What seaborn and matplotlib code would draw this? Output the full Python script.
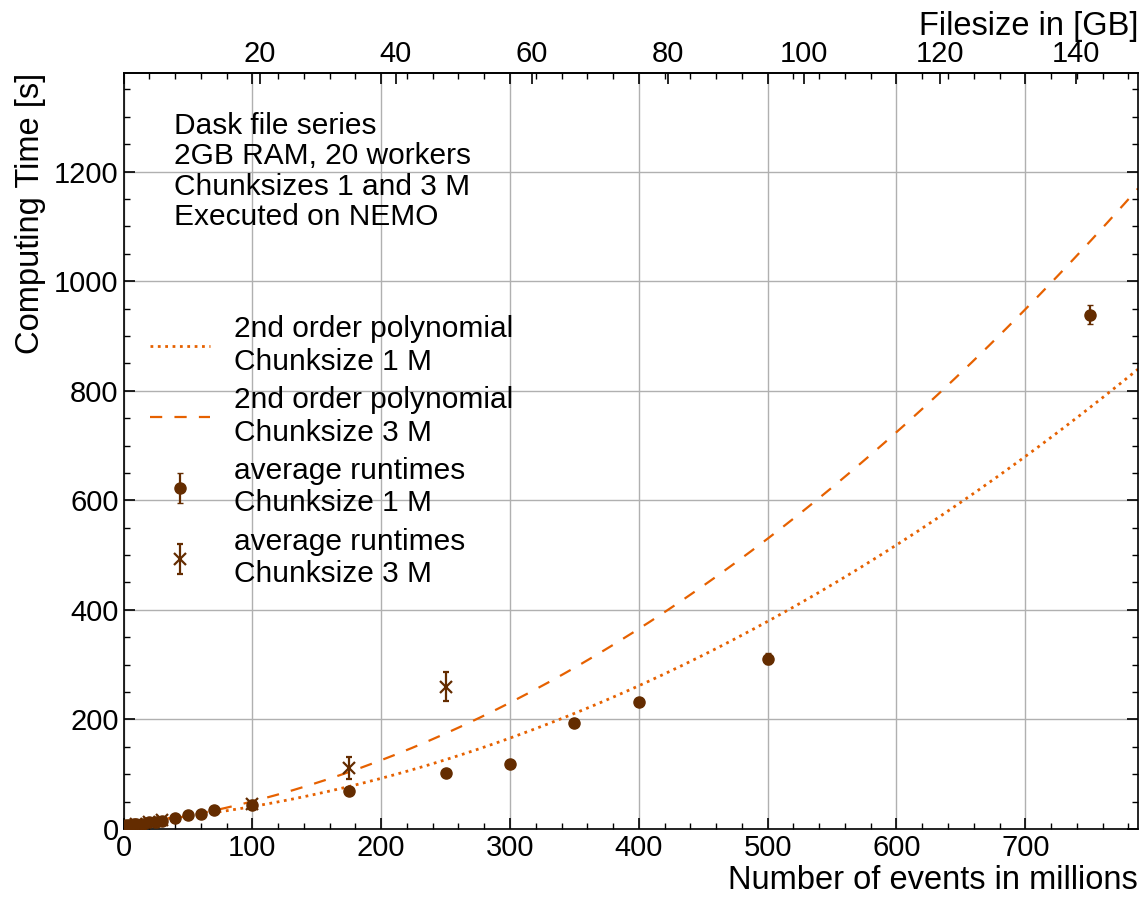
import numpy as np
import pandas as pd
import matplotlib
matplotlib.use('Agg')
import matplotlib.pyplot as plt
from matplotlib.ticker import MultipleLocator
import seaborn as sns

# measured runtimes, chunksize 1 M (events in millions, seconds)
events_1m = [1, 2, 4, 6, 8, 10, 15, 20, 25, 30, 40, 50, 60, 70, 100, 175, 250, 300, 350, 400, 500, 750]
time_1m = [6, 7, 8, 8, 9, 9, 10, 12, 13, 15, 20, 26, 28, 34, 43, 70, 103, 119, 194, 232, 311, 939]
err_1m = [2, 2, 2, 2, 2, 2, 2, 3, 3, 3, 4, 4, 4, 5, 5, 5, 5, 5, 5, 8, 10, 18]

# measured runtimes, chunksize 3 M
events_3m = [10, 20, 30, 100, 175, 250]
time_3m = [10, 13, 16, 45, 111, 260]
err_3m = [3, 3, 3, 6, 20, 27]

# 2nd order polynomial coefficients (a, b, c)
poly_1m = [1.1e-3, 0.185, 11.5]
poly_3m = [1.49e-3, 0.305, 5.0]

gb_ticks = [20, 40, 60, 80, 100, 120, 140]
ev_per_gb = 5.28

info = 'Dask file series\n2GB RAM, 20 workers\nChunksizes 1 and 3 M\nExecuted on NEMO'

line_col = '#e66100'
mark_col = '#642c00'

sns.set_theme(style='ticks')
plt.rcParams['font.family'] = ['Liberation Sans', 'DejaVu Sans']
plt.rcParams['font.size'] = 21
for k in ['text.color', 'axes.labelcolor', 'xtick.color', 'ytick.color', 'axes.edgecolor']:
    plt.rcParams[k] = 'black'

fig, ax = plt.subplots(figsize=(11.48, 8.97), dpi=100)
fig.subplots_adjust(left=0.1076, right=0.9913, bottom=0.0758, top=0.9186)

xmax = 787.5
xs = np.linspace(0, xmax, 300)
fits = pd.DataFrame({'x': np.concatenate([xs, xs]),
                     'y': np.concatenate([np.polyval(poly_1m, xs), np.polyval(poly_3m, xs)]),
                     'fit': ['1M'] * len(xs) + ['3M'] * len(xs)})

sns.lineplot(data=fits[fits.fit == '1M'], x='x', y='y', ax=ax, color=line_col,
             linestyle=':', linewidth=2, label='2nd order polynomial\nChunksize 1 M')
sns.lineplot(data=fits[fits.fit == '3M'], x='x', y='y', ax=ax, color=line_col,
             linewidth=1.6, dashes=(5.5, 5.5), label='2nd order polynomial\nChunksize 3 M')

ax.errorbar(events_1m, time_1m, yerr=err_1m, fmt='o', color=mark_col, markersize=8,
            elinewidth=1.6, capsize=2, label='average runtimes\nChunksize 1 M', zorder=5)
ax.errorbar(events_3m, time_3m, yerr=err_3m, fmt='x', color=mark_col, markersize=9,
            markeredgewidth=1.6, elinewidth=1.6, capsize=2, label='average runtimes\nChunksize 3 M', zorder=5)

ax.set_xlim(0, xmax)
ax.set_ylim(0, 1380)
ax.xaxis.set_major_locator(MultipleLocator(100))
ax.xaxis.set_minor_locator(MultipleLocator(20))
ax.yaxis.set_major_locator(MultipleLocator(200))
ax.yaxis.set_minor_locator(MultipleLocator(50))
ax.grid(True, which='major', color='#b0b0b0', linewidth=1)
ax.tick_params(which='both', direction='in', top=True, right=True, labelsize=21, colors='black')
ax.tick_params(which='major', length=8, width=1.2)
ax.tick_params(which='minor', length=4, width=1)
for s in ax.spines.values():
    s.set_color('black')
    s.set_linewidth(1.2)

ax.set_xlabel('Number of events in millions', loc='right', fontsize=23.5, labelpad=2)
ax.set_ylabel('Computing Time [s]', loc='top', fontsize=23.5, labelpad=6)

sec = ax.secondary_xaxis('top', functions=(lambda x: x / ev_per_gb, lambda g: g * ev_per_gb))
sec.set_xticks(gb_ticks)
sec.tick_params(which='major', direction='in', length=8, width=1.2, labelsize=21, colors='black')
sec.tick_params(which='minor', length=0)
sec.set_xlabel('Filesize in [GB]', loc='right', fontsize=23.5, labelpad=4)

ax.text(0.05, 0.949, info, transform=ax.transAxes, ha='left', va='top', fontsize=21.5, linespacing=1.12)

ax.legend(loc='upper left', bbox_to_anchor=(0.0, 0.715), frameon=False, fontsize=21.5,
          handlelength=2.0, labelspacing=0.35)

fig.savefig('out.png', dpi=100)
